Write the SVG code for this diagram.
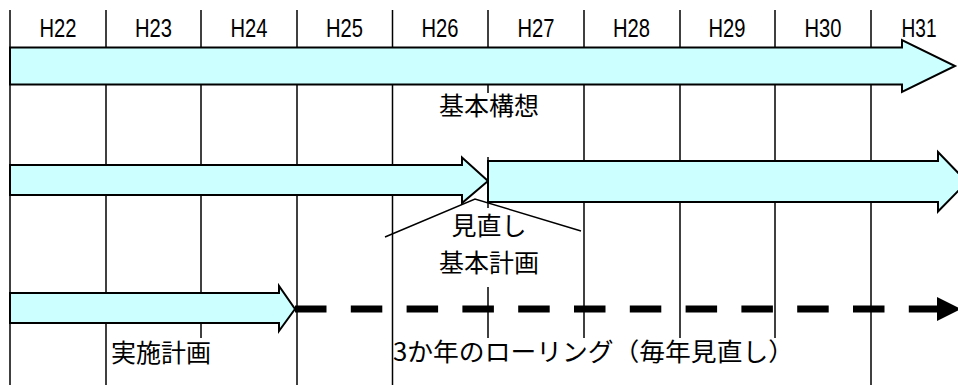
<svg xmlns="http://www.w3.org/2000/svg" width="958" height="385" viewBox="0 0 958 385">
  <style>
    .grid { stroke: #000; stroke-width: 1.5; fill: none; }
    .bar { fill: #CCFFFF; stroke: #000; stroke-width: 2; stroke-linejoin: miter; }
    .hd { font-family: "Liberation Sans", "DejaVu Sans", sans-serif; font-size: 25.5px; fill: #000; text-anchor: middle; }
    .jp { font-family: "Noto Sans CJK JP", "Noto Sans CJK SC", sans-serif; font-size: 25px; fill: #000; }
    .mid { text-anchor: middle; }
    .dash { stroke: #000; stroke-width: 7; stroke-dasharray: 31.5 24.3; fill: none; }
    .call { stroke: #000; stroke-width: 1.5; fill: none; }
  </style>
  <rect width="958" height="385" fill="#fff"/>
  <g id="grid" class="grid">
    <line x1="10" y1="10" x2="10" y2="385"/>
    <line x1="106" y1="10" x2="106" y2="385"/>
    <line x1="201" y1="10" x2="201" y2="338"/>
    <line x1="297" y1="10" x2="297" y2="385"/>
    <line x1="392.5" y1="10" x2="392.5" y2="385"/>
    <line x1="488" y1="10" x2="488" y2="93"/>
    <line x1="488" y1="157" x2="488" y2="208"/>
    <line x1="488" y1="287" x2="488" y2="338"/>
    <line x1="584" y1="10" x2="584" y2="338"/>
    <line x1="680" y1="10" x2="680" y2="338"/>
    <line x1="775" y1="10" x2="775" y2="338"/>
    <line x1="871" y1="10" x2="871" y2="385"/>
  </g>
  <g id="header">
    <text class="hd" x="58" y="36.5" textLength="37" lengthAdjust="spacingAndGlyphs">H22</text>
    <text class="hd" x="153.5" y="36.5" textLength="37" lengthAdjust="spacingAndGlyphs">H23</text>
    <text class="hd" x="249" y="36.5" textLength="37" lengthAdjust="spacingAndGlyphs">H24</text>
    <text class="hd" x="344.5" y="36.5" textLength="37" lengthAdjust="spacingAndGlyphs">H25</text>
    <text class="hd" x="440" y="36.5" textLength="37" lengthAdjust="spacingAndGlyphs">H26</text>
    <text class="hd" x="536" y="36.5" textLength="37" lengthAdjust="spacingAndGlyphs">H27</text>
    <text class="hd" x="631.5" y="36.5" textLength="37" lengthAdjust="spacingAndGlyphs">H28</text>
    <text class="hd" x="727" y="36.5" textLength="37" lengthAdjust="spacingAndGlyphs">H29</text>
    <text class="hd" x="823" y="36.5" textLength="37" lengthAdjust="spacingAndGlyphs">H30</text>
    <text class="hd" x="919" y="36.5" textLength="35" lengthAdjust="spacingAndGlyphs">H31</text>
  </g>
  <g id="arrow-kihonkoso">
    <polygon class="bar" points="10,47.5 902,47.5 902,40 955,66 902,92 902,84.5 10,84.5"/>
    <text class="jp mid" x="489" y="115">基本構想</text>
  </g>
  <g id="arrow-kihonkeikaku-1">
    <polygon class="bar" points="10,165 462,165 462,157.5 488,181 462,203 462,195 10,195"/>
  </g>
  <g id="arrow-kihonkeikaku-2">
    <polygon class="bar" points="488,161 938,161 938,152 967,182 938,211.5 938,202 488,202"/>
  </g>
  <g id="label-minaoshi">
    <text class="jp mid" x="489" y="235">見直し</text>
    <text class="jp mid" x="489" y="272">基本計画</text>
  </g>
  <g id="arrow-jisshi">
    <polygon class="bar" points="10,293 279,293 279,286 295,309 279,331 279,323 10,323"/>
    <text class="jp" x="111" y="362">実施計画</text>
  </g>
  <g id="label-rolling">
    <text class="jp" x="393" y="361" textLength="401" lengthAdjust="spacingAndGlyphs">3か年のローリング（毎年見直し）</text>
  </g>
  <g id="connectors">
    <line class="dash" x1="295" y1="309" x2="938" y2="309"/>
    <polygon points="937,297 961,309 937,321" fill="#000"/>
    <polyline class="call" points="385,237 475,199 581,231"/>
  </g>
</svg>
